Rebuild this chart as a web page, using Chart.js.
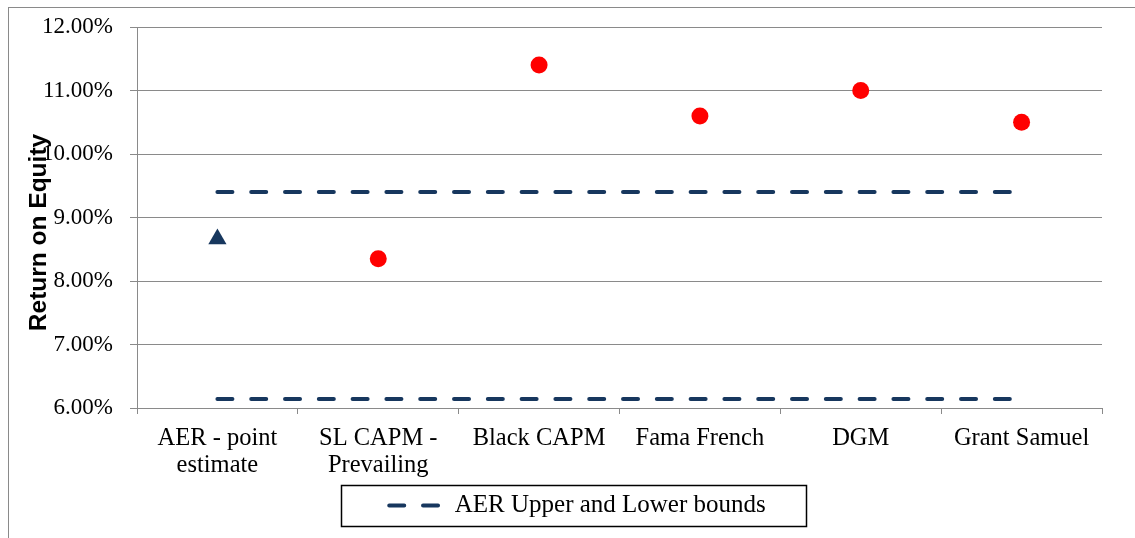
<!DOCTYPE html>
<html>
<head>
<meta charset="utf-8">
<script src="https://cdn.jsdelivr.net/npm/chart.js@4.4.1/dist/chart.umd.min.js"></script>
<style>
  html, body { margin: 0; padding: 0; background: #fff; }
  #wrap { width: 1135px; height: 538px; position: relative; }
</style>
</head>
<body>
<div id="wrap"><canvas id="roeChart"></canvas></div>
<script>
const categories = [
  ["AER - point", "estimate"],
  ["SL CAPM -", "Prevailing"],
  "Black CAPM",
  "Fama French",
  "DGM",
  "Grant Samuel"
];
const pointEstimate = [8.66, null, null, null, null, null];
const otherEstimates = [null, 8.35, 11.40, 10.60, 11.00, 10.50];
const upperBound = [9.40, 9.40, 9.40, 9.40, 9.40, 9.40];
const lowerBound = [6.14, 6.14, 6.14, 6.14, 6.14, 6.14];
const yMin = 6, yMax = 12, yStep = 1;

const navy = "#17375E";
const gridGray = "#8a8a8a";
const serif = "'Liberation Serif', 'Times New Roman', serif";
const boundDash = [15, 18.8];

// frame around the whole chart + box around the legend
const framePlugin = {
  id: "frames",
  afterLayout(chart) {
    // legend sits a little right of the canvas centre
    const lg = chart.legend;
    if (lg) { lg.left += 14; lg.right += 14; }
    // axis title sits a bit below the middle of the plot, as in the original
    const ys = chart.scales.y;
    if (ys && !ys._titleShifted) {
      const orig = ys.drawTitle;
      ys.drawTitle = function () {
        this.ctx.save();
        this.ctx.translate(0, 15);
        orig.call(this);
        this.ctx.restore();
      };
      ys._titleShifted = true;
    }
  },
  beforeDraw(chart) {
    const ctx = chart.ctx;
    ctx.save();
    ctx.strokeStyle = gridGray;
    ctx.lineWidth = 1;
    ctx.strokeRect(8.5, 7.5, chart.width + 10, chart.height + 10);
    ctx.restore();
  },
  afterDraw(chart) {
    const boxes = chart.legend && chart.legend.legendHitBoxes;
    if (!boxes || !boxes.length) return;
    const hb = boxes[0];
    const ctx = chart.ctx;
    const cy = hb.top + hb.height / 2;
    ctx.save();
    ctx.strokeStyle = "#000";
    ctx.lineWidth = 1.5;
    ctx.strokeRect(Math.round(hb.left - 48) + 0.5, Math.round(cy - 20.5) + 0.5, Math.round(hb.width + 88), 41);
    ctx.restore();
  }
};

const ctx = document.getElementById("roeChart").getContext("2d");
new Chart(ctx, {
  type: "line",
  data: {
    labels: categories,
    datasets: [
      {
        label: "AER Upper and Lower bounds",
        data: upperBound,
        borderColor: navy,
        borderWidth: 4,
        borderDash: boundDash,
        borderCapStyle: "round",
        pointRadius: 0,
        fill: false
      },
      {
        label: "lower",
        data: lowerBound,
        borderColor: navy,
        borderWidth: 4,
        borderDash: boundDash,
        borderCapStyle: "round",
        pointRadius: 0,
        fill: false
      },
      {
        label: "AER - point estimate",
        data: pointEstimate,
        showLine: false,
        pointStyle: "triangle",
        pointRadius: 10.5,
        pointBackgroundColor: navy,
        pointBorderWidth: 0,
        borderColor: navy
      },
      {
        label: "Estimates",
        data: otherEstimates,
        showLine: false,
        pointStyle: "circle",
        pointRadius: 8.5,
        pointBackgroundColor: "#FF0000",
        pointBorderWidth: 0,
        borderColor: "#FF0000"
      }
    ]
  },
  options: {
    responsive: true,
    maintainAspectRatio: false,
    animation: false,
    layout: { padding: { left: 25, right: 33, top: 27, bottom: 10 } },
    plugins: {
      tooltip: { enabled: false },
      legend: {
        position: "bottom",
        labels: {
          usePointStyle: true,
          pointStyle: "line",
          pointStyleWidth: 53,
          color: "#000",
          font: { family: serif, size: 25 },
          padding: 10,
          generateLabels: (chart) =>
            Chart.defaults.plugins.legend.labels.generateLabels(chart)
              .filter((item) => item.datasetIndex === 0)
              .map((item) => Object.assign(item, {
                lineDash: boundDash,
                lineWidth: 4,
                lineCap: "round",
                strokeStyle: navy
              }))
        }
      }
    },
    scales: {
      x: {
        offset: true,
        afterFit: (scale) => { scale.height = 75; },
        grid: {
          offset: true,
          drawOnChartArea: false,
          color: gridGray,
          tickLength: 6
        },
        border: { color: gridGray },
        ticks: {
          color: "#000",
          maxRotation: 0,
          autoSkip: false,
          padding: 11,
          font: { family: serif, size: 24.5, lineHeight: 1.1 }
        }
      },
      y: {
        min: yMin,
        max: yMax,
        afterFit: (scale) => {
          scale.width = 112;
          scale.paddingTop = 0;
          scale.paddingBottom = 0;
        },
        grid: { color: gridGray, tickLength: 7 },
        border: { color: gridGray },
        ticks: {
          stepSize: yStep,
          color: "#000",
          padding: 17,
          font: { family: serif, size: 23 },
          callback: (v) => v.toFixed(2) + "%"
        },
        title: {
          display: true,
          text: "Return on Equity",
          color: "#000",
          padding: 0,
          font: { family: "'Liberation Sans', Arial, sans-serif", size: 24.5, weight: "bold" }
        }
      }
    }
  },
  plugins: [framePlugin]
});
</script>
</body>
</html>
